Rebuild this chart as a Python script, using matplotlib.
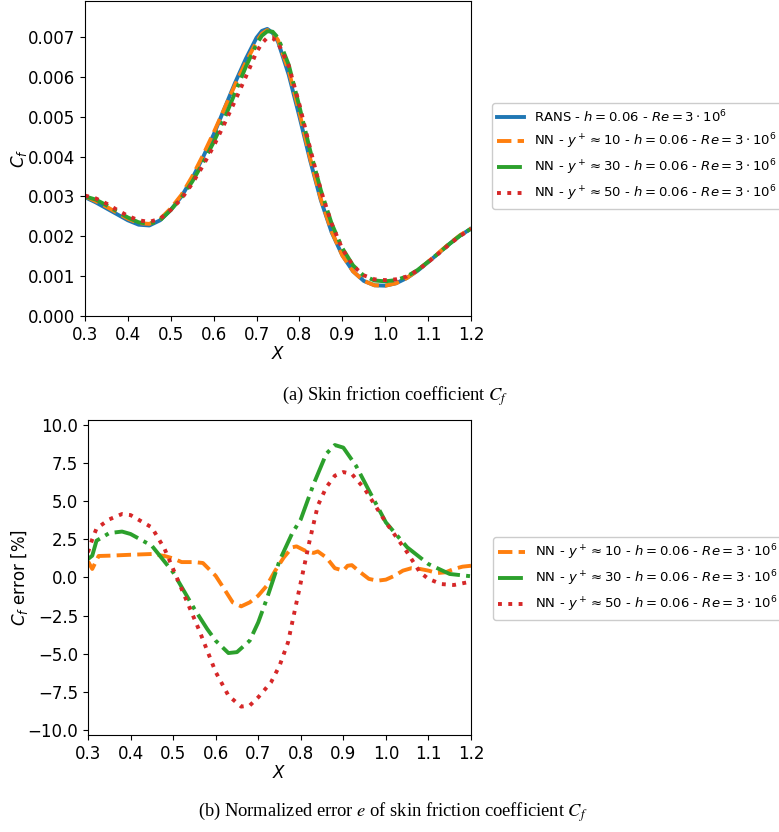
import matplotlib
matplotlib.use("Agg")
import matplotlib.pyplot as plt

# ---------------- data: skin friction coefficient ----------------
x_cf = [0.300, 0.325, 0.350, 0.375, 0.400, 0.425, 0.450, 0.475, 0.500, 0.525,
        0.550, 0.575, 0.600, 0.625, 0.650, 0.675, 0.700, 0.7125, 0.725, 0.7375,
        0.750, 0.775, 0.800, 0.825, 0.850, 0.875, 0.900, 0.925, 0.950, 0.975,
        1.000, 1.025, 1.050, 1.075, 1.100, 1.125, 1.150, 1.175, 1.200]
cf_rans = [0.00298, 0.00285, 0.00270, 0.00255, 0.00240, 0.00229, 0.00227, 0.00240, 0.00266, 0.00300,
           0.00345, 0.00398, 0.00455, 0.00520, 0.00585, 0.00645, 0.00698, 0.00715, 0.00720, 0.00710,
           0.00688, 0.00605, 0.00500, 0.00390, 0.00290, 0.00210, 0.00152, 0.00112, 0.00088, 0.00077,
           0.00076, 0.00082, 0.00095, 0.00113, 0.00135, 0.00158, 0.00181, 0.00202, 0.00219]
cf_nn10 = [0.00300, 0.00288, 0.00274, 0.00259, 0.00244, 0.00233, 0.00231, 0.00243, 0.00270, 0.00304,
           0.00350, 0.00403, 0.00460, 0.00520, 0.00580, 0.00636, 0.00688, 0.00708, 0.00717, 0.00711,
           0.00692, 0.00615, 0.00510, 0.00395, 0.00293, 0.00212, 0.00152, 0.00112, 0.00088, 0.00077,
           0.00076, 0.00082, 0.00095, 0.00114, 0.00136, 0.00159, 0.00182, 0.00203, 0.00220]
cf_nn30 = [0.00300, 0.00292, 0.00278, 0.00262, 0.00247, 0.00235, 0.00231, 0.00240, 0.00266, 0.00297,
           0.00337, 0.00384, 0.00436, 0.00495, 0.00560, 0.00625, 0.00682, 0.00703, 0.00714, 0.00713,
           0.00698, 0.00630, 0.00525, 0.00415, 0.00315, 0.00232, 0.00170, 0.00127, 0.00101, 0.00089,
           0.00087, 0.00090, 0.00099, 0.00115, 0.00136, 0.00158, 0.00181, 0.00202, 0.00219]
cf_nn50 = [0.00302, 0.00295, 0.00282, 0.00266, 0.00251, 0.00240, 0.00236, 0.00244, 0.00266, 0.00294,
           0.00332, 0.00377, 0.00426, 0.00482, 0.00540, 0.00600, 0.00662, 0.00684, 0.00698, 0.00697,
           0.00685, 0.00628, 0.00530, 0.00420, 0.00315, 0.00232, 0.00168, 0.00126, 0.00102, 0.00092,
           0.00090, 0.00092, 0.00099, 0.00114, 0.00135, 0.00157, 0.00180, 0.00201, 0.00218]

# ---------------- data: normalized error [%] ----------------
x_e10 = [0.300, 0.310, 0.325, 0.350, 0.400, 0.450, 0.480, 0.500, 0.520, 0.550,
         0.570, 0.600, 0.620, 0.640, 0.660, 0.680, 0.700, 0.720, 0.740, 0.760,
         0.780, 0.790, 0.810, 0.830, 0.840, 0.860, 0.880, 0.900, 0.910, 0.920,
         0.940, 0.960, 0.980, 1.000, 1.020, 1.040, 1.060, 1.080, 1.100, 1.120,
         1.140, 1.160, 1.180, 1.200]
e_nn10 = [1.05, 0.55, 1.40, 1.42, 1.48, 1.53, 1.40, 1.24, 1.00, 1.00,
          0.94, 0.10, -0.76, -1.64, -1.90, -1.64, -1.20, -0.55, 0.44, 1.30,
          1.97, 2.03, 1.75, 1.60, 1.70, 1.30, 0.60, 0.44, 0.76, 0.80,
          0.33, -0.10, -0.22, -0.15, 0.10, 0.44, 0.60, 0.55, 0.44, 0.28,
          0.33, 0.55, 0.70, 0.76]

x_e30 = [0.300, 0.310, 0.320, 0.350, 0.380, 0.400, 0.450, 0.500, 0.550, 0.580,
         0.600, 0.630, 0.650, 0.680, 0.700, 0.720, 0.750, 0.780, 0.800, 0.830,
         0.860, 0.880, 0.900, 0.930, 0.960, 1.000, 1.050, 1.100, 1.150, 1.200]
e_nn30 = [1.20, 1.42, 2.40, 2.90, 3.00, 2.84, 2.07, 0.33, -2.07, -3.38,
          -4.15, -4.96, -4.90, -4.15, -2.95, -1.42, 1.09, 2.90, 3.80, 6.10,
          8.10, 8.67, 8.50, 7.30, 5.70, 3.60, 1.97, 0.87, 0.22, 0.07]

x_e50 = [0.300, 0.310, 0.320, 0.350, 0.380, 0.400, 0.450, 0.480, 0.500, 0.530,
         0.560, 0.600, 0.630, 0.660, 0.680, 0.700, 0.730, 0.750, 0.770, 0.780,
         0.800, 0.820, 0.840, 0.860, 0.880, 0.900, 0.920, 0.950, 1.000, 1.050,
         1.080, 1.100, 1.130, 1.160, 1.200]
e_nn50 = [1.64, 2.50, 3.20, 3.80, 4.15, 4.08, 3.27, 1.86, 0.55, -1.42,
          -3.38, -6.20, -7.75, -8.47, -8.40, -7.86, -6.88, -5.80, -4.26, -2.95,
          -0.33, 2.30, 4.70, 5.90, 6.66, 6.90, 6.77, 5.80, 3.60, 1.64,
          0.33, -0.10, -0.44, -0.50, -0.28]

x_ticks = [0.3, 0.4, 0.5, 0.6, 0.7, 0.8, 0.9, 1.0, 1.1, 1.2]
cf_ticks = [0.000, 0.001, 0.002, 0.003, 0.004, 0.005, 0.006, 0.007]
e_ticks = [-10.0, -7.5, -5.0, -2.5, 0.0, 2.5, 5.0, 7.5, 10.0]
lbl_rans = r"RANS - $h = 0.06$ - $Re = 3 \cdot 10^6$"
lbl_10 = r"NN - $y^+ \approx 10$ - $h = 0.06$ - $Re = 3 \cdot 10^6$"
lbl_30 = r"NN - $y^+ \approx 30$ - $h = 0.06$ - $Re = 3 \cdot 10^6$"
lbl_50 = r"NN - $y^+ \approx 50$ - $h = 0.06$ - $Re = 3 \cdot 10^6$"
cap_a = r"(a) Skin friction coefficient $C_f$"
cap_b = r"(b) Normalized error $e$ of skin friction coefficient $C_f$"

W, H = 779, 832
fig = plt.figure(figsize=(W / 100, H / 100), dpi=100)

def box(l, t, r, b):
    return [l / W, 1 - b / H, (r - l) / W, (b - t) / H]

TICK = 12
LW = 2.8
LEG = 9.5

# ---------- top ----------
ax1 = fig.add_axes(box(85, 1, 471, 316))
ax1.plot(x_cf, cf_rans, color="tab:blue", lw=LW, ls="-", label=lbl_rans)
ax1.plot(x_cf, cf_nn10, color="tab:orange", lw=LW, ls="--", label=lbl_10)
ax1.plot(x_cf, cf_nn30, color="tab:green", lw=LW, ls="-.", label=lbl_30)
ax1.plot(x_cf, cf_nn50, color="tab:red", lw=LW, ls=":", label=lbl_50)
ax1.set_xlim(0.3, 1.2)
ax1.set_ylim(0.0, 0.00790)
ax1.set_xticks(x_ticks)
ax1.set_yticks(cf_ticks)
ax1.set_yticklabels(["%.3f" % v for v in cf_ticks])
ax1.set_xticklabels(["%.1f" % v for v in x_ticks])
ax1.tick_params(labelsize=TICK)
ax1.set_xlabel(r"$X$", fontsize=TICK, labelpad=1)
ax1.set_ylabel(r"$C_f$", fontsize=TICK, labelpad=-1)
fig.legend(handles=ax1.get_lines(), loc="upper left",
           bbox_to_anchor=(492 / W, 1 - 103 / H), bbox_transform=fig.transFigure,
           fontsize=LEG, framealpha=1.0, borderaxespad=0)

# ---------- bottom ----------
ax2 = fig.add_axes(box(88, 420, 471, 735))
l10, = ax2.plot(x_e10, e_nn10, color="tab:orange", lw=LW, ls="--", label=lbl_10)
l30, = ax2.plot(x_e30, e_nn30, color="tab:green", lw=LW, ls="-.", label=lbl_30)
l50, = ax2.plot(x_e50, e_nn50, color="tab:red", lw=LW, ls=":", label=lbl_50)
ax2.set_xlim(0.3, 1.2)
ax2.set_ylim(-10.33, 10.31)
ax2.set_xticks(x_ticks)
ax2.set_xticklabels(["%.1f" % v for v in x_ticks])
ax2.set_yticks(e_ticks)
ax2.set_yticklabels(["\u2212%.1f" % -v if v < 0 else "%.1f" % v for v in e_ticks])
ax2.tick_params(labelsize=TICK)
ax2.set_xlabel(r"$X$", fontsize=TICK, labelpad=1)
ax2.set_ylabel(r"$C_f$ error [%]", fontsize=TICK, labelpad=-2)
fig.legend(handles=[l10, l30, l50], loc="upper left",
           bbox_to_anchor=(493 / W, 1 - 537 / H), bbox_transform=fig.transFigure,
           fontsize=LEG, framealpha=1.0, borderaxespad=0)

# ---------- captions ----------
fig.text(395 / W, 1 - 396 / H, cap_a, ha="center", va="center",
         family="Liberation Serif", fontsize=13.3, math_fontfamily="stix")
fig.text(393 / W, 1 - 812 / H, cap_b, ha="center", va="center",
         family="Liberation Serif", fontsize=13.3, math_fontfamily="stix")

fig.savefig("out.png", dpi=100)
